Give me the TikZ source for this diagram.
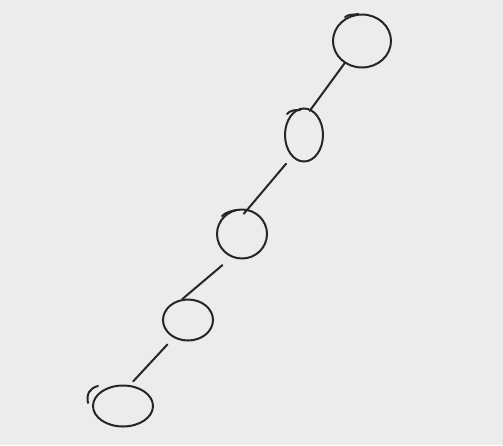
\documentclass[tikz,border=0pt]{standalone}
\usetikzlibrary{shapes.geometric}
\definecolor{bg}{HTML}{ECECEC}
\definecolor{ink}{HTML}{262626}
\tikzset{
  blob/.style={ellipse, draw=ink, line width=2pt, inner sep=0pt},
  link/.style={draw=ink, line width=2pt, line cap=round},
  hook/.style={draw=ink, line width=2pt, line cap=round}
}
\begin{document}
\begin{tikzpicture}[x=1pt,y=-1pt]
\fill[bg] (0,0) rectangle (503,445);
\useasboundingbox (0,0) rectangle (503,445);
\node[blob, minimum width=58pt, minimum height=53pt] (n1) at (362,41) {};
\node[blob, minimum width=38pt, minimum height=53pt] (n2) at (304,135) {};
\node[blob, minimum width=50pt, minimum height=49pt] (n3) at (242,234) {};
\node[blob, minimum width=50pt, minimum height=41pt] (n4) at (188,320) {};
\node[blob, minimum width=60pt, minimum height=41pt] (n5) at (123,406) {};
\draw[link, shorten <=0pt, shorten >=-2pt] (n1.232.7) -- (n2.75.5);
\draw[link, shorten <=9pt, shorten >=-6pt] (n2.241.9) -- (n3.77.7);
\draw[link, shorten <=12pt, shorten >=0pt] (n3.246.6) -- (n4.105);
\draw[link, shorten <=9pt, shorten >=5pt] (n4.231.5) -- (n5.72.5);
\draw[hook] (345,17) .. controls (349,14) and (354,15) .. (358,14);
\draw[hook] (88,403) .. controls (86,394) and (90,388) .. (98,386);
\draw[hook] (287,114) .. controls (290,110) and (296,110) .. (300,110);
\draw[hook] (222,216) .. controls (226,212) and (232,211) .. (236,210);
\end{tikzpicture}
\end{document}
